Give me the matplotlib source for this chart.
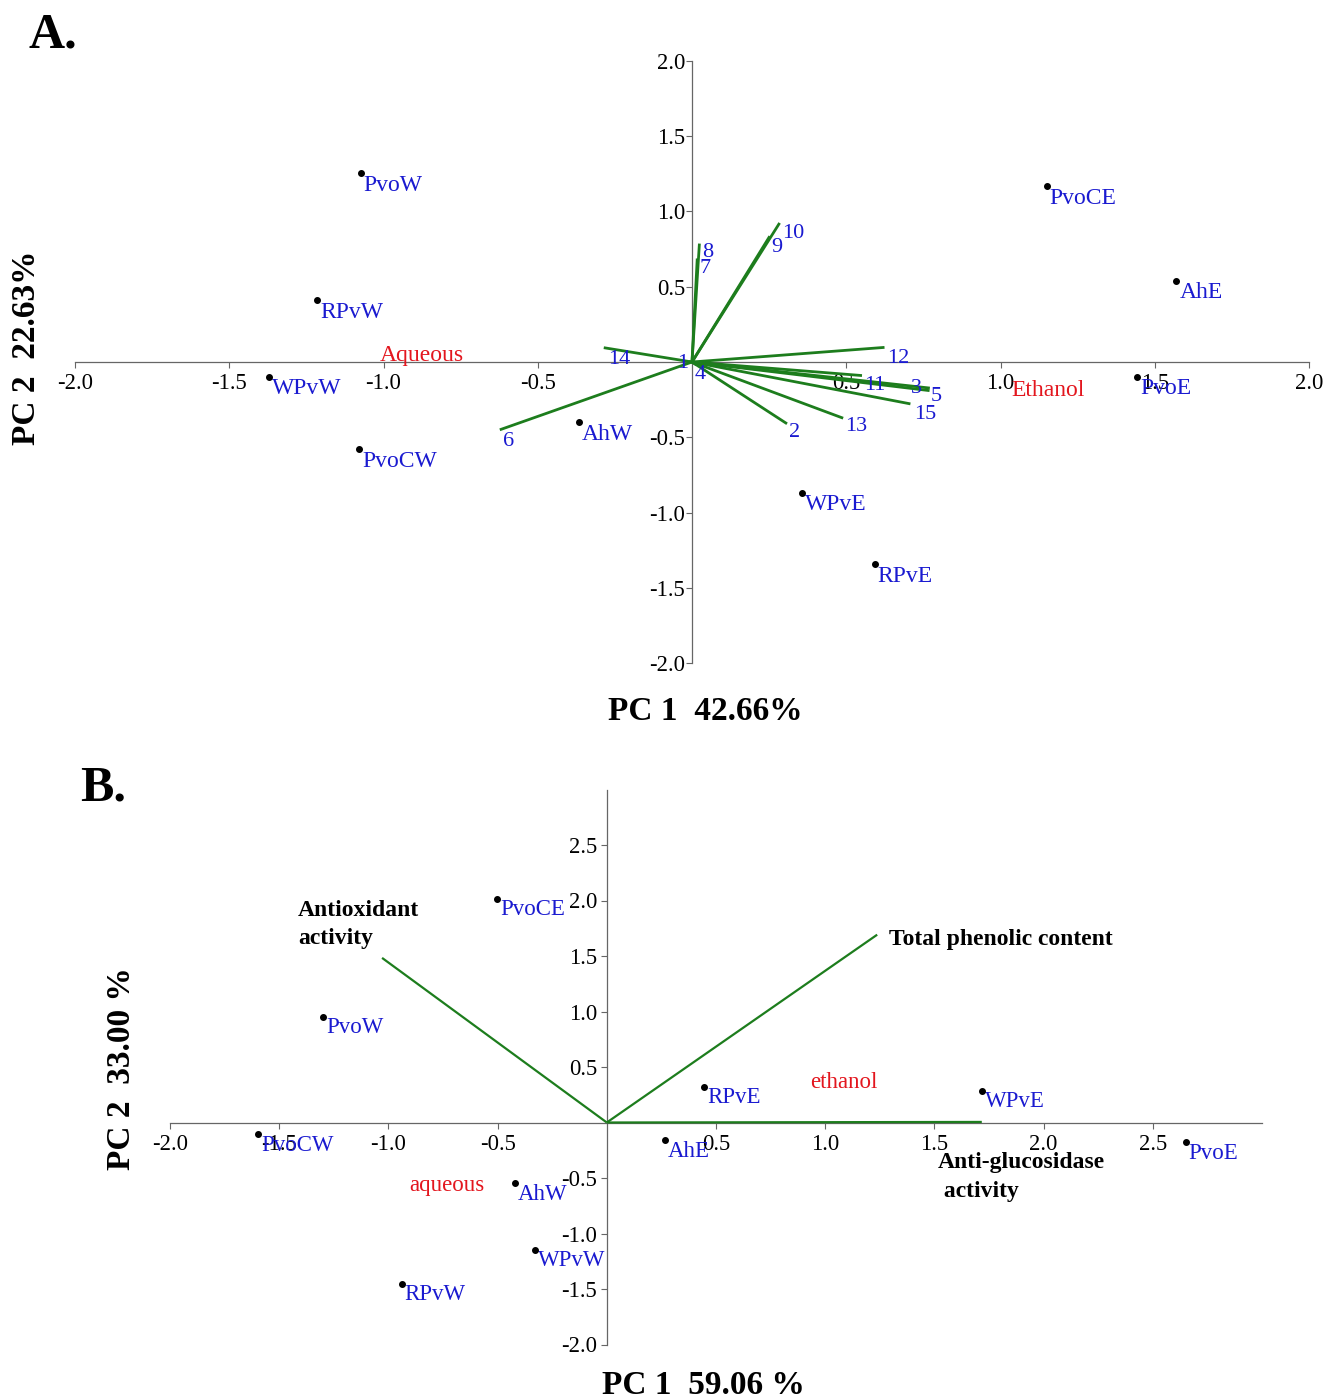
import matplotlib
matplotlib.use('Agg')
import matplotlib.pyplot as plt

plt.rcParams['font.family'] = ['Liberation Serif', 'DejaVu Serif']
plt.rcParams['axes.unicode_minus'] = False

# ---------------- Panel A data ----------------
a_sample_names = ['PvoW', 'RPvW', 'WPvW', 'PvoCW', 'AhW', 'PvoCE', 'AhE', 'PvoE', 'WPvE', 'RPvE']
a_sample_pc1 = [-1.074, -1.216, -1.371, -1.078, -0.367, 1.150, 1.570, 1.444, 0.356, 0.592]
a_sample_pc2 = [1.252, 0.410, -0.097, -0.580, -0.400, 1.168, 0.538, -0.097, -0.867, -1.342]

a_var_names = ['1', '2', '3', '4', '5', '6', '7', '8', '9', '10', '11', '12', '13', '14', '15']
a_var_pc1 = [-0.010, 0.308, 0.771, 0.015, 0.770, -0.623, 0.017, 0.024, 0.252, 0.284, 0.551, 0.624, 0.490, -0.286, 0.708]
a_var_pc2 = [0.003, -0.410, -0.173, -0.020, -0.190, -0.450, 0.687, 0.786, 0.835, 0.923, -0.090, 0.097, -0.373, 0.095, -0.278]

a_group_names = ['Aqueous', 'Ethanol']
a_group_pc1 = [-1.011, 1.036]
a_group_pc2 = [0.046, -0.186]

a_ticks = [-2.0, -1.5, -1.0, -0.5, 0.5, 1.0, 1.5, 2.0]
a_tick_labels = ['-2.0', '-1.5', '-1.0', '-0.5', '0.5', '1.0', '1.5', '2.0']

# ---------------- Panel B data ----------------
b_sample_names = ['PvoCE', 'PvoW', 'PvoCW', 'AhW', 'WPvW', 'RPvW', 'AhE', 'RPvE', 'WPvE', 'PvoE']
b_sample_pc1 = [-0.502, -1.299, -1.596, -0.420, -0.330, -0.940, 0.265, 0.447, 1.720, 2.650]
b_sample_pc2 = [2.015, 0.952, -0.104, -0.546, -1.146, -1.451, -0.158, 0.320, 0.287, -0.176]

b_var_names = ['Antioxidant\nactivity', 'Total phenolic content', 'Anti-glucosidase\n activity']
b_var_pc1 = [-1.029, 1.238, 1.717]
b_var_pc2 = [1.483, 1.692, 0.005]

b_group_names = ['aqueous', 'ethanol']
b_group_pc1 = [-0.904, 0.932]
b_group_pc2 = [-0.564, 0.359]

b_xticks = [-2.0, -1.5, -1.0, -0.5, 0.5, 1.0, 1.5, 2.0, 2.5]
b_xtick_labels = ['-2.0', '-1.5', '-1.0', '-0.5', '0.5', '1.0', '1.5', '2.0', '2.5']
b_yticks = [-2.0, -1.5, -1.0, -0.5, 0.5, 1.0, 1.5, 2.0, 2.5]
b_ytick_labels = ['-2.0', '-1.5', '-1.0', '-0.5', '0.5', '1.0', '1.5', '2.0', '2.5']

# ---------------- styles / layout ----------------
BLUE = '#1a1ad0'
RED = '#e3161e'
GREEN = '#1d7d1d'
AXC = '#666666'

# label offsets (pixels) relative to vector ends
a_label_off = {'1': (-6, -2), '2': (8, -9), '3': (-13, 0), '4': (4, -9), '5': (7, -6),
               '6': (9, -12), '7': (8, -10), '8': (8, -9), '9': (7, -11), '10': (14, -11),
               '11': (13, -10), '12': (14, -11), '13': (13, -8), '14': (15, -12), '15': (15, -11)}
b_label_off = [(-84, 33, 'left'), (12, -5, 'left'), (-44, -55, 'left')]

fig = plt.figure(figsize=(13.26, 13.99), dpi=100)


def style_axes(ax, xlim, ylim, xt, xtl, yt, ytl, ypad):
    ax.set_xlim(*xlim)
    ax.set_ylim(*ylim)
    for s in ['top', 'right']:
        ax.spines[s].set_visible(False)
    for s in ['left', 'bottom']:
        ax.spines[s].set_position(('data', 0))
        ax.spines[s].set_color(AXC)
        ax.spines[s].set_linewidth(0.9)
    ax.set_xticks(xt)
    ax.set_xticklabels(xtl)
    ax.set_yticks(yt)
    ax.set_yticklabels(ytl)
    ax.tick_params(axis='x', direction='out', length=4, width=0.8, color=AXC,
                   labelsize=16.3, pad=4)
    ax.tick_params(axis='y', direction='out', length=4, width=0.8, color=AXC,
                   labelsize=16.3, pad=ypad)
    ax.patch.set_alpha(0)


# ---------------- Panel A ----------------
axA = fig.add_axes([75 / 1326, 1 - 663.3 / 1399, (1309 - 75) / 1326, (663.3 - 60.7) / 1399])
style_axes(axA, (-2.0, 2.0), (-2.0, 2.0), a_ticks, a_tick_labels, a_ticks, a_tick_labels, 1)

for name, vx, vy in zip(a_var_names, a_var_pc1, a_var_pc2):
    axA.plot([0, vx], [0, vy], color=GREEN, lw=2.0, zorder=3, solid_capstyle='butt')
    dx, dy = a_label_off[name]
    axA.annotate(name, (vx, vy), xytext=(dx, dy), textcoords='offset pixels',
                 ha='center', va='center', color=BLUE, fontsize=16, zorder=4)

axA.plot(a_sample_pc1, a_sample_pc2, 'o', color='black', ms=4, zorder=5, ls='none')
for name, sx, sy in zip(a_sample_names, a_sample_pc1, a_sample_pc2):
    axA.annotate(name, (sx, sy), xytext=(3, -12), textcoords='offset pixels',
                 ha='left', va='center', color=BLUE, fontsize=17, zorder=4)

for name, gx, gy in zip(a_group_names, a_group_pc1, a_group_pc2):
    axA.text(gx, gy, name, ha='left', va='center', color=RED, fontsize=17, zorder=4)

fig.text(29 / 1326, 1 - 36 / 1399, 'A.', fontsize=36, fontweight='bold', ha='left', va='center')
fig.text(705 / 1326, 1 - 712 / 1399, 'PC 1  42.66%', fontsize=24, fontweight='bold',
         ha='center', va='center')
fig.text(27 / 1326, 1 - 348 / 1399, 'PC 2  22.63%', fontsize=24, fontweight='bold',
         ha='center', va='center', rotation=90)

# ---------------- Panel B ----------------
axB = fig.add_axes([170 / 1326, 1 - 1344.5 / 1399, (1262 - 170) / 1326, (1344.5 - 789.5) / 1399])
style_axes(axB, (-2.0, 3.0), (-2.0, 3.0), b_xticks, b_xtick_labels, b_yticks, b_ytick_labels, 3)

for (name, vx, vy), (dx, dy, ha) in zip(zip(b_var_names, b_var_pc1, b_var_pc2), b_label_off):
    axB.plot([0, vx], [0, vy], color=GREEN, lw=1.6, zorder=3, solid_capstyle='butt')
    axB.annotate(name, (vx, vy), xytext=(dx, dy), textcoords='offset pixels',
                 ha=ha, va='center', color='black', fontsize=17, fontweight='bold',
                 linespacing=1.45, zorder=4)

axB.plot(b_sample_pc1, b_sample_pc2, 'o', color='black', ms=4, zorder=5, ls='none')
for name, sx, sy in zip(b_sample_names, b_sample_pc1, b_sample_pc2):
    axB.annotate(name, (sx, sy), xytext=(3, -11), textcoords='offset pixels',
                 ha='left', va='center', color=BLUE, fontsize=16.5, zorder=4)

for name, gx, gy in zip(b_group_names, b_group_pc1, b_group_pc2):
    axB.text(gx, gy, name, ha='left', va='center', color=RED, fontsize=16.5, zorder=4)

fig.text(80 / 1326, 1 - 788 / 1399, 'B.', fontsize=36, fontweight='bold', ha='left', va='center')
fig.text(703 / 1326, 1 - 1386 / 1399, 'PC 1  59.06 %', fontsize=24, fontweight='bold',
         ha='center', va='center')
fig.text(122 / 1326, 1 - 1069 / 1399, 'PC 2  33.00 %', fontsize=24, fontweight='bold',
         ha='center', va='center', rotation=90)

fig.savefig('out.png', dpi=100)
